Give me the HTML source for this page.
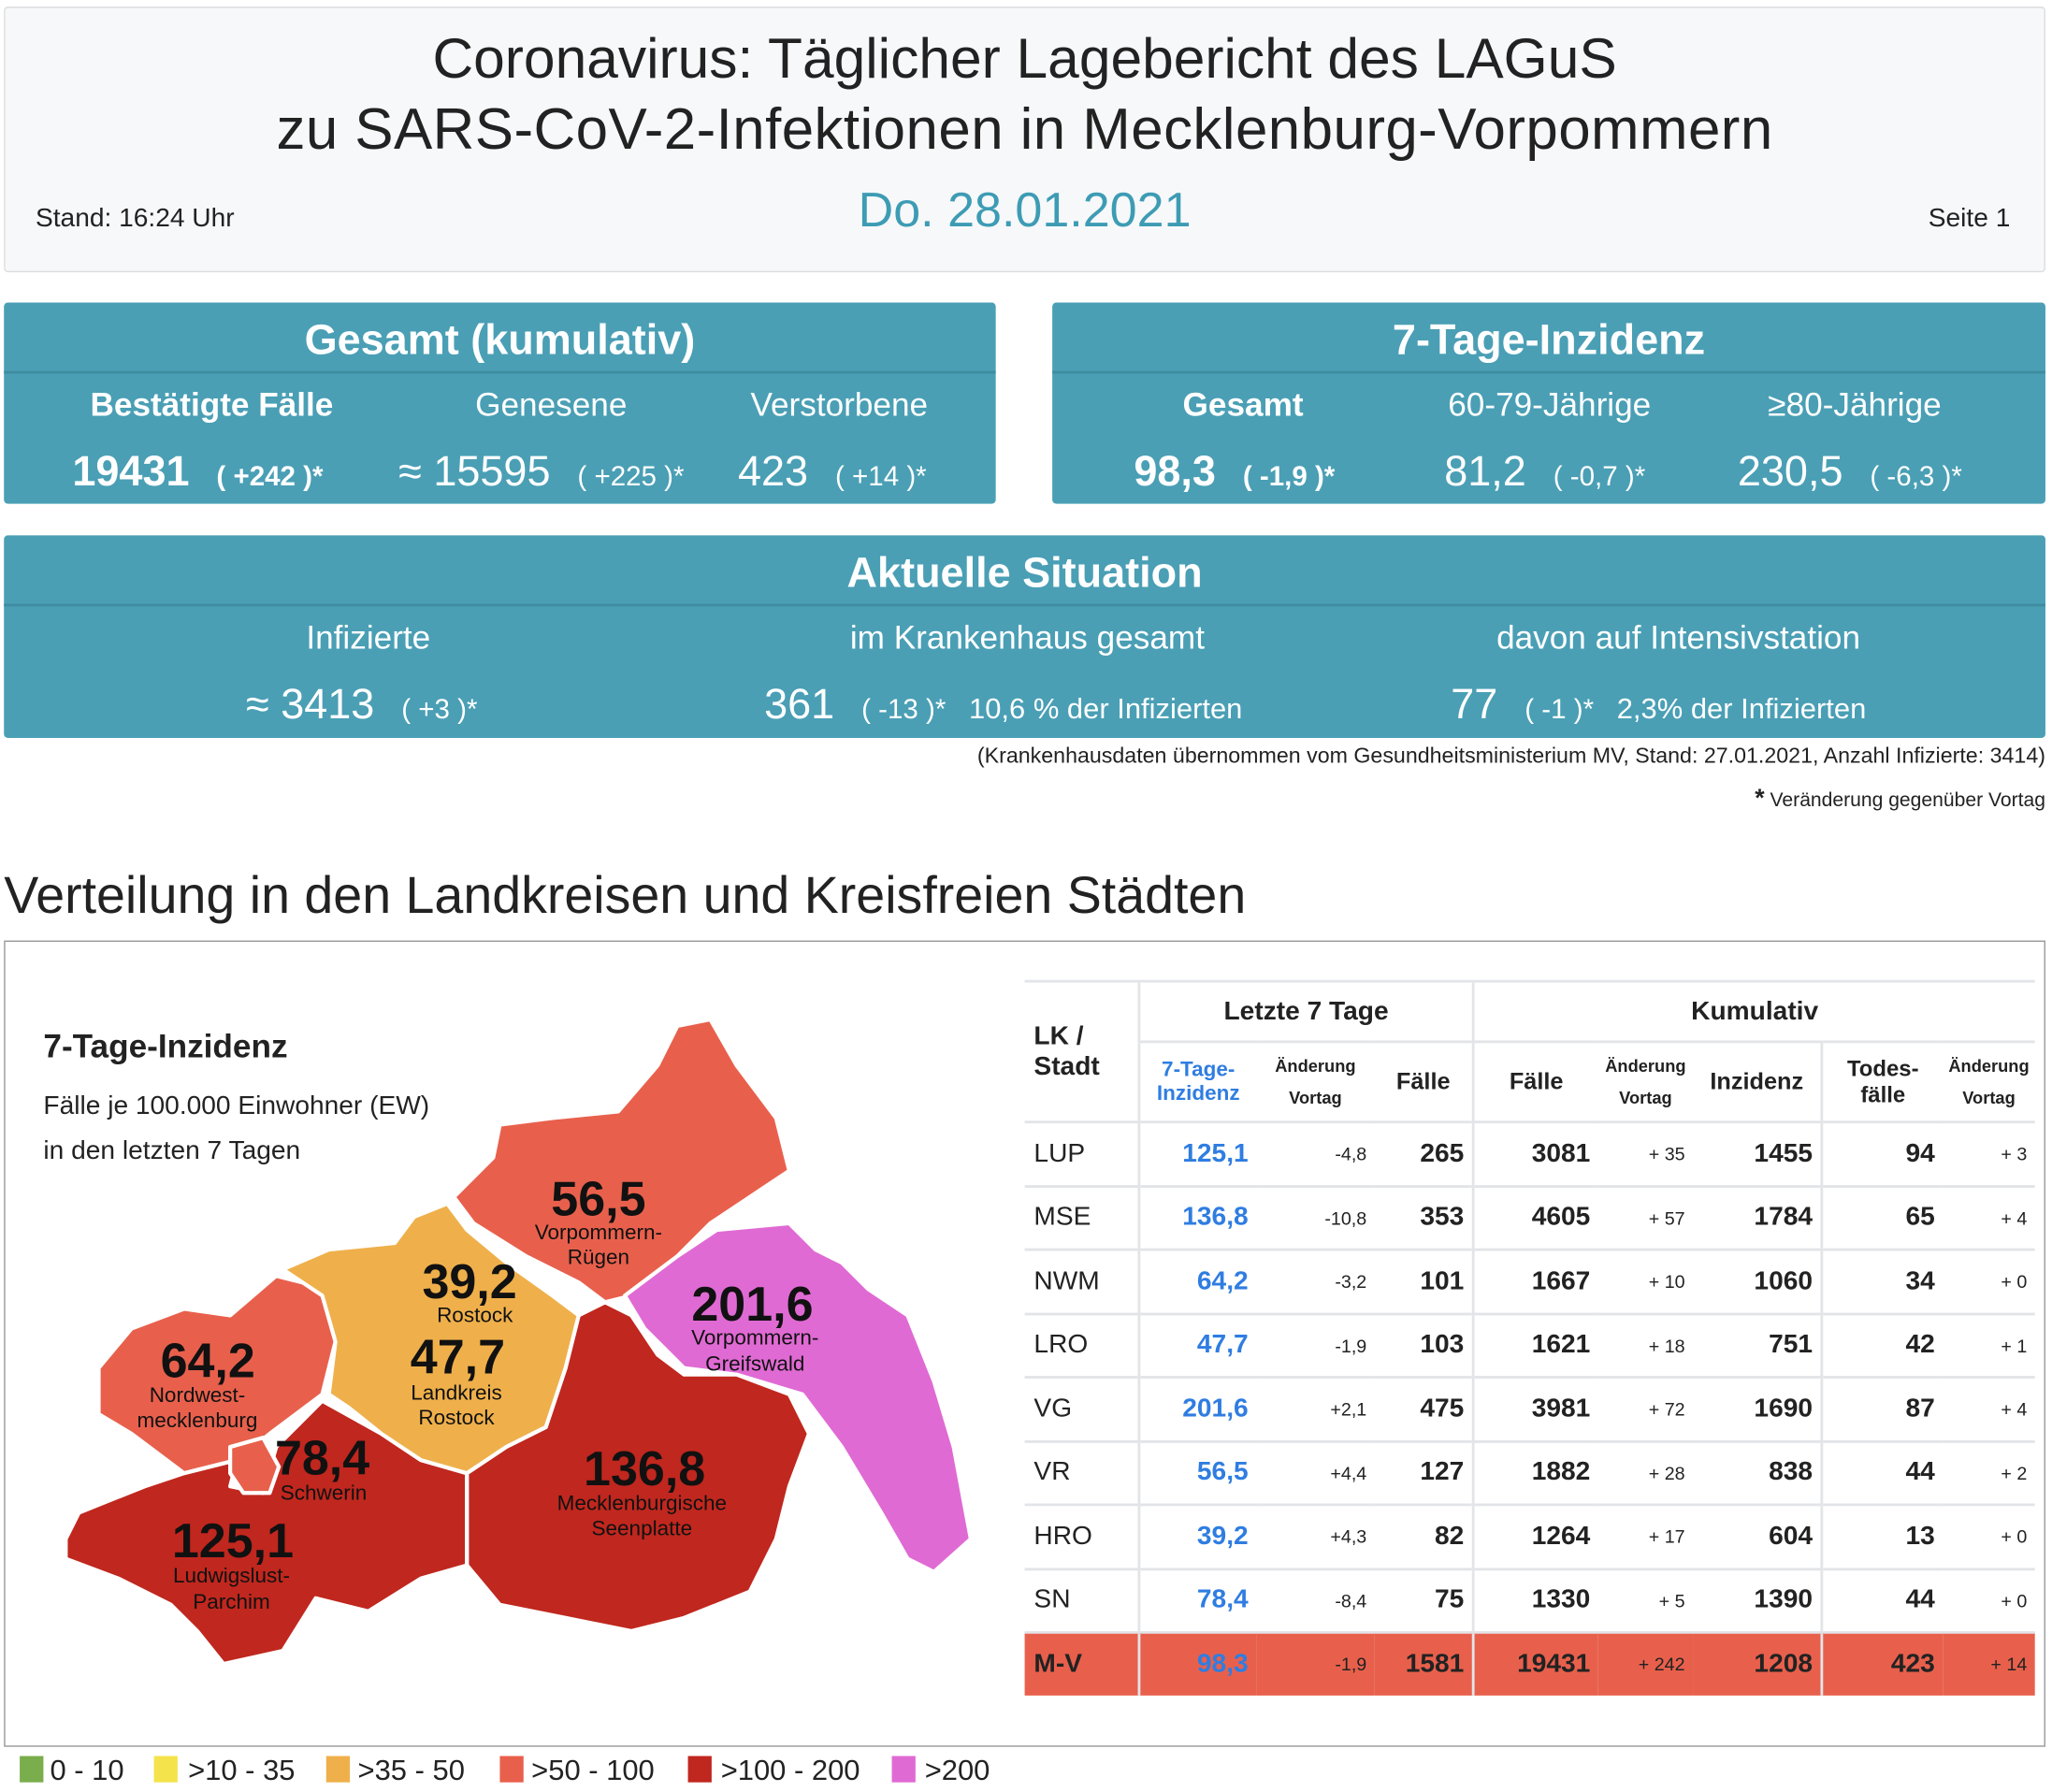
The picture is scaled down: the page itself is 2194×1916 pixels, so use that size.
<!DOCTYPE html>
<html><head><meta charset="utf-8">
<style>
body{margin:0;width:2194px;height:1916px;overflow:hidden;background:#fff;font-family:"Liberation Sans",sans-serif;}
#w{position:absolute;left:0;top:0;width:1560px;height:1362px;transform:scale(1.4064);transform-origin:0 0;}
.a{position:absolute;white-space:nowrap;}
.c{text-align:center;}
.box{position:absolute;background:#4a9fb5;border-radius:3px;color:#fff;}
.box .hl{position:absolute;left:0;right:0;height:2px;background:#3f8ca0;}
.sm{font-size:21px;}
table{position:absolute;left:779px;top:745px;border-collapse:collapse;font-size:20px;color:#222;table-layout:fixed;width:768px;}
td{padding:0 6px;height:46.5px;border-top:2px solid #e2e4e8;text-align:right;font-weight:bold;}
td.l{text-align:left;font-weight:normal;padding-left:7px;}
td.b{color:#2f7de1;}
td.s{font-size:14px;font-weight:normal;}
.v{border-left:2px solid #e2e4e8;}
th{font-weight:bold;font-size:15px;padding:0;}
.mv td{background:#e8604c;}
</style></head><body><div id="w">
<div class="a" style="left:3px;top:5px;width:1550px;height:200px;background:#f7f8fa;border:1px solid #dcdde0;border-radius:3px;"></div>
<div class="a c" style="left:3px;width:1552px;top:21px;font-size:43px;color:#222;">Coronavirus: Täglicher Lagebericht des LAGuS</div>
<div class="a c" style="left:3px;width:1552px;top:74px;font-size:44px;color:#222;letter-spacing:0.3px;">zu SARS-CoV-2-Infektionen in Mecklenburg-Vorpommern</div>
<div class="a c" style="left:3px;width:1552px;top:139px;font-size:37px;color:#3d9cb4;">Do. 28.01.2021</div>
<div class="a" style="left:27px;top:155px;font-size:20px;color:#222;">Stand: 16:24 Uhr</div>
<div class="a" style="left:1466px;top:155px;font-size:20px;color:#222;">Seite 1</div>

<div class="box" style="left:3px;top:230px;width:754px;height:153px;">
 <div class="hl" style="top:52px;"></div>
 <div class="a c" style="left:0;width:754px;top:10px;font-size:32px;font-weight:bold;">Gesamt (kumulativ)</div>
 <div class="a c" style="left:58px;width:200px;top:64px;font-size:25px;font-weight:bold;">Bestätigte Fälle</div>
 <div class="a c" style="left:316px;width:200px;top:64px;font-size:25px;">Genesene</div>
 <div class="a c" style="left:535px;width:200px;top:64px;font-size:25px;">Verstorbene</div>
 <div class="a" style="left:52px;top:110px;font-size:32px;font-weight:bold;">19431 <span class="sm">&nbsp;&nbsp;( +242 )*</span></div>
 <div class="a" style="left:300px;top:110px;font-size:32px;">≈ 15595 <span class="sm">&nbsp;&nbsp;( +225 )*</span></div>
 <div class="a" style="left:558px;top:110px;font-size:32px;">423 <span class="sm">&nbsp;&nbsp;( +14 )*</span></div>
</div>
<div class="box" style="left:800px;top:230px;width:755px;height:153px;">
 <div class="hl" style="top:52px;"></div>
 <div class="a c" style="left:0;width:755px;top:10px;font-size:32px;font-weight:bold;">7-Tage-Inzidenz</div>
 <div class="a c" style="left:45px;width:200px;top:64px;font-size:25px;font-weight:bold;">Gesamt</div>
 <div class="a c" style="left:278px;width:200px;top:64px;font-size:25px;">60-79-Jährige</div>
 <div class="a c" style="left:510px;width:200px;top:64px;font-size:25px;">≥80-Jährige</div>
 <div class="a" style="left:62px;top:110px;font-size:32px;font-weight:bold;">98,3 <span class="sm">&nbsp;&nbsp;( -1,9 )*</span></div>
 <div class="a" style="left:298px;top:110px;font-size:32px;">81,2 <span class="sm">&nbsp;&nbsp;( -0,7 )*</span></div>
 <div class="a" style="left:521px;top:110px;font-size:32px;">230,5 <span class="sm">&nbsp;&nbsp;( -6,3 )*</span></div>
</div>
<div class="box" style="left:3px;top:407px;width:1552px;height:154px;">
 <div class="hl" style="top:52px;"></div>
 <div class="a c" style="left:0;width:1552px;top:10px;font-size:32px;font-weight:bold;">Aktuelle Situation</div>
 <div class="a c" style="left:177px;width:200px;top:64px;font-size:25px;">Infizierte</div>
 <div class="a c" style="left:578px;width:400px;top:64px;font-size:25px;">im Krankenhaus gesamt</div>
 <div class="a c" style="left:1073px;width:400px;top:64px;font-size:25px;">davon auf Intensivstation</div>
 <div class="a" style="left:184px;top:110px;font-size:32px;">≈ 3413 <span class="sm">&nbsp;&nbsp;( +3 )*</span></div>
 <div class="a" style="left:578px;top:110px;font-size:32px;">361 <span class="sm">&nbsp;&nbsp;( -13 )* &nbsp;&nbsp;<span style="font-size:22px">10,6 % der Infizierten</span></span></div>
 <div class="a" style="left:1100px;top:110px;font-size:32px;">77 <span class="sm">&nbsp;&nbsp;( -1 )* &nbsp;&nbsp;<span style="font-size:22px">2,3% der Infizierten</span></span></div>
</div>
<div class="a" style="right:5px;top:566px;font-size:16.5px;color:#222;">(Krankenhausdaten übernommen vom Gesundheitsministerium MV, Stand: 27.01.2021, Anzahl Infizierte: 3414)</div>
<div class="a" style="right:5px;top:597px;font-size:15px;color:#222;"><b style="font-size:19px">*</b> Veränderung gegenüber Vortag</div>

<div class="a" style="left:3px;top:659px;font-size:39.5px;color:#222;">Verteilung in den Landkreisen und Kreisfreien Städten</div>
<div class="a" style="left:3px;top:715px;width:1550px;height:611px;border:1px solid #999;"></div>

<div class="a" style="left:33px;top:782px;font-size:25px;font-weight:bold;color:#222;">7-Tage-Inzidenz</div>
<div class="a" style="left:33px;top:830px;font-size:20px;color:#222;">Fälle je 100.000 Einwohner (EW)</div>
<div class="a" style="left:33px;top:864px;font-size:20px;color:#222;">in den letzten 7 Tagen</div>

<svg class="a" style="left:0;top:0" width="1560" height="1362">
<g stroke="#fff" stroke-width="3" stroke-linejoin="round">
<polygon fill="#e8604c" points="75,1040 100,1010 140,995 175,1000 210,970 250,980 255,1020 245,1060 205,1090 180,1110 140,1120 100,1090 75,1075"/>
<polygon fill="#c0271e" points="50,1170 60,1150 110,1130 140,1120 180,1110 175,1130 200,1135 210,1100 245,1065 290,1090 320,1110 355,1120 355,1190 320,1200 280,1225 240,1215 215,1255 170,1265 150,1240 130,1220 90,1200 50,1185"/>
<polygon fill="#e8604c" points="175,1100 200,1093 212,1115 205,1135 185,1135 175,1120"/>
<polygon fill="#efb04b" points="215,965 250,950 300,945 315,925 340,915 355,935 385,960 420,985 440,1000 430,1040 415,1085 385,1100 355,1120 320,1110 290,1090 265,1070 250,1060 255,1020 245,985"/>
<polygon fill="#e8604c" points="345,910 375,880 380,855 420,850 470,845 500,810 515,780 540,775 560,810 590,850 600,890 570,910 540,930 510,960 480,985 460,990 440,975 400,955 360,930"/>
<polygon fill="#e06ad4" points="475,985 515,955 545,935 600,930 620,950 640,960 660,980 690,1000 710,1050 725,1100 738,1170 710,1195 690,1185 670,1150 640,1100 610,1060 560,1045 520,1040 490,1010"/>
<polygon fill="#c0271e" points="415,1085 430,1040 440,1000 460,990 480,1000 500,1030 520,1045 560,1045 600,1060 615,1090 600,1130 590,1170 570,1210 520,1230 480,1240 430,1230 380,1220 355,1190 355,1120 385,1100"/>
</g>
<g font-family="Liberation Sans,sans-serif" text-anchor="middle" fill="#111">
<g font-size="37" font-weight="bold">
<text x="455" y="924">56,5</text><text x="357" y="987">39,2</text><text x="348" y="1044">47,7</text>
<text x="572" y="1004">201,6</text><text x="158" y="1047">64,2</text><text x="245" y="1121">78,4</text>
<text x="490" y="1129">136,8</text><text x="177" y="1184">125,1</text></g>
<g font-size="16">
<text x="455" y="942">Vorpommern-</text><text x="455" y="961">Rügen</text>
<text x="361" y="1005">Rostock</text><text x="347" y="1064">Landkreis</text><text x="347" y="1083">Rostock</text>
<text x="574" y="1022">Vorpommern-</text><text x="574" y="1042">Greifswald</text>
<text x="150" y="1066">Nordwest-</text><text x="150" y="1085">mecklenburg</text>
<text x="246" y="1140">Schwerin</text>
<text x="488" y="1148">Mecklenburgische</text><text x="488" y="1167">Seenplatte</text>
<text x="176" y="1203">Ludwigslust-</text><text x="176" y="1223">Parchim</text></g>
</g>
<g font-family="Liberation Sans,sans-serif" font-size="22" fill="#222">
<rect x="15" y="1335" width="18" height="20" fill="#7aad4c"/><text x="38" y="1353">0 - 10</text>
<rect x="117" y="1335" width="18" height="20" fill="#f4e34a"/><text x="143" y="1353">&gt;10 - 35</text>
<rect x="248" y="1335" width="18" height="20" fill="#efb04b"/><text x="272" y="1353">&gt;35 - 50</text>
<rect x="380" y="1335" width="18" height="20" fill="#e8604c"/><text x="404" y="1353">&gt;50 - 100</text>
<rect x="523" y="1335" width="18" height="20" fill="#c0271e"/><text x="548" y="1353">&gt;100 - 200</text>
<rect x="678" y="1335" width="18" height="20" fill="#e06ad4"/><text x="703" y="1353">&gt;200</text>
</g>
</svg>

<table>
<colgroup><col style="width:87px"><col style="width:89px"><col style="width:90px"><col style="width:75px"><col style="width:95px"><col style="width:72px"><col style="width:98px"><col style="width:92px"><col style="width:70px"></colgroup>
<tr style="height:46px"><th rowspan="2" style="text-align:left;font-size:20px;padding-left:7px;border-top:2px solid #e2e4e8;">LK /<br>Stadt</th>
<th colspan="3" class="v" style="font-size:20px;border-top:2px solid #e2e4e8;">Letzte 7 Tage</th>
<th colspan="5" class="v" style="font-size:20px;border-top:2px solid #e2e4e8;">Kumulativ</th></tr>
<tr style="height:61px"><th class="v" style="color:#2f7de1;font-size:16px;border-top:2px solid #e2e4e8;">7-Tage-<br>Inzidenz</th><th style="font-size:13px;line-height:24px;border-top:2px solid #e2e4e8;">Änderung<br>Vortag</th><th style="font-size:18px;border-top:2px solid #e2e4e8;">Fälle</th>
<th class="v" style="font-size:18px;border-top:2px solid #e2e4e8;">Fälle</th><th style="font-size:13px;line-height:24px;border-top:2px solid #e2e4e8;">Änderung<br>Vortag</th><th style="font-size:18px;border-top:2px solid #e2e4e8;">Inzidenz</th>
<th class="v" style="font-size:17px;border-top:2px solid #e2e4e8;">Todes-<br>fälle</th><th style="font-size:13px;line-height:24px;border-top:2px solid #e2e4e8;">Änderung<br>Vortag</th></tr>
<tr><td class="l">LUP</td><td class="v b">125,1</td><td class="s">-4,8</td><td>265</td><td class="v">3081</td><td class="s">+ 35</td><td>1455</td><td class="v">94</td><td class="s">+ 3</td></tr>
<tr><td class="l">MSE</td><td class="v b">136,8</td><td class="s">-10,8</td><td>353</td><td class="v">4605</td><td class="s">+ 57</td><td>1784</td><td class="v">65</td><td class="s">+ 4</td></tr>
<tr><td class="l">NWM</td><td class="v b">64,2</td><td class="s">-3,2</td><td>101</td><td class="v">1667</td><td class="s">+ 10</td><td>1060</td><td class="v">34</td><td class="s">+ 0</td></tr>
<tr><td class="l">LRO</td><td class="v b">47,7</td><td class="s">-1,9</td><td>103</td><td class="v">1621</td><td class="s">+ 18</td><td>751</td><td class="v">42</td><td class="s">+ 1</td></tr>
<tr><td class="l">VG</td><td class="v b">201,6</td><td class="s">+2,1</td><td>475</td><td class="v">3981</td><td class="s">+ 72</td><td>1690</td><td class="v">87</td><td class="s">+ 4</td></tr>
<tr><td class="l">VR</td><td class="v b">56,5</td><td class="s">+4,4</td><td>127</td><td class="v">1882</td><td class="s">+ 28</td><td>838</td><td class="v">44</td><td class="s">+ 2</td></tr>
<tr><td class="l">HRO</td><td class="v b">39,2</td><td class="s">+4,3</td><td>82</td><td class="v">1264</td><td class="s">+ 17</td><td>604</td><td class="v">13</td><td class="s">+ 0</td></tr>
<tr><td class="l">SN</td><td class="v b">78,4</td><td class="s">-8,4</td><td>75</td><td class="v">1330</td><td class="s">+ 5</td><td>1390</td><td class="v">44</td><td class="s">+ 0</td></tr>
<tr class="mv"><td class="l" style="font-weight:bold">M-V</td><td class="v b">98,3</td><td class="s">-1,9</td><td>1581</td><td class="v">19431</td><td class="s">+ 242</td><td>1208</td><td class="v">423</td><td class="s">+ 14</td></tr>
</table>
</div></body></html>
